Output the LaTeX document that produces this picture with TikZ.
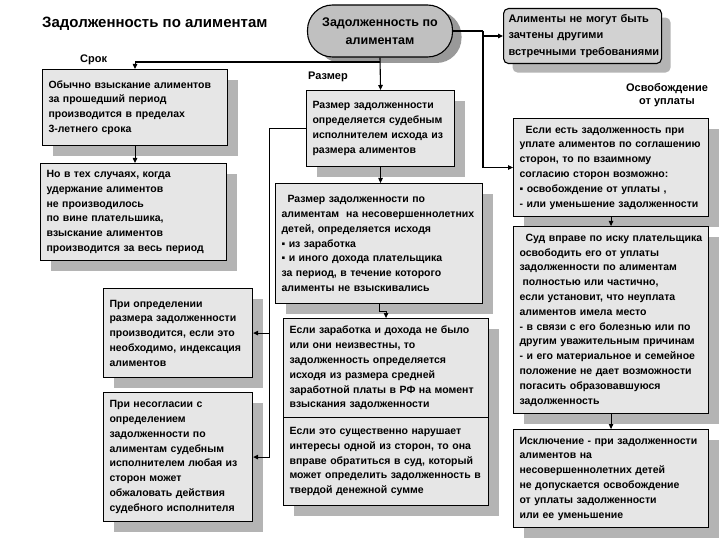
\documentclass[tikz,border=0pt]{standalone}
\usepackage{fontspec}
\setmainfont{Liberation Sans}
\usetikzlibrary{shadows,arrows.meta,calc}
\definecolor{boxfill}{HTML}{E6E6E6}
\definecolor{shade}{HTML}{B4B4B4}
\definecolor{ovalfill}{HTML}{C0C0C0}
\definecolor{alimfill}{HTML}{D2D2D2}
\tikzset{
  box/.style={draw=black, line width=1.1pt, fill=boxfill, anchor=north west, align=left,
    inner xsep=6pt, inner ysep=2pt, font=\bfseries\fontsize{10.5}{14.8}\selectfont,
    general shadow={fill=shade, shadow xshift=10pt, shadow yshift=-10pt}},
  sz/.style 2 args={minimum width=#1pt, minimum height=#2pt, text width=#1pt-12pt},
  ovalbox/.style={draw=black, line width=1.1pt, fill=ovalfill, rounded corners=25pt,
    minimum width=145pt, minimum height=52pt, align=center, inner sep=2pt,
    font=\bfseries\fontsize{12.5}{18}\selectfont,
    general shadow={fill=shade!85!black, shadow xshift=9pt, shadow yshift=-6pt}},
  alimbox/.style={draw=black, line width=1.1pt, fill=alimfill, rounded corners=5pt, anchor=north west,
    align=left, inner xsep=5pt, minimum width=158pt, minimum height=55pt, text width=148pt,
    font=\bfseries\fontsize{11}{16.5}\selectfont,
    general shadow={fill=shade, shadow xshift=9pt, shadow yshift=-9pt}},
  conn/.style={line width=1.1pt},
  arr/.style={conn, -{Triangle[length=5pt,width=4.5pt]}},
  lbl/.style={font=\bfseries\fontsize{11}{13.5}\selectfont, align=center, inner sep=1pt},
}
\begin{document}
\begin{tikzpicture}[x=1pt,y=-1pt]
\useasboundingbox (0,0) rectangle (720,540);
\node[anchor=west, inner sep=0pt, font=\bfseries\fontsize{15}{17}\selectfont] (title) at (42,24) {Задолженность по алиментам};

\node[ovalbox] (oval) at (380,31) {Задолженность по\\алиментам};
\node[alimbox] (alim) at (503,8) {\mbox{Алименты не могут быть}\\\mbox{зачтены другими}\\\mbox{встречными требованиями}};

\node[lbl, anchor=west] (srok) at (79,60) {Срок};
\node[lbl, anchor=west] (razmer) at (307,77) {Размер};
\node[lbl] (osv) at (667,95) {Освобождение\\от уплаты};

% left column
\node[box, sz={185}{76}] (l1) at (42,69) {Обычно взыскание алиментов\\за прошедший период\\производится в пределах\\3-летнего срока};
\node[box, sz={186}{97}] (l2) at (40,163) {Но в тех случаях, когда\\удержание алиментов\\не производилось\\по вине плательшика,\\взыскание алиментов\\производится за весь период};
\node[box, sz={149}{89}] (l3) at (103,288) {При определении\\размера задолженности\\производится, если это\\необходимо, индексация\\алиментов};
\node[box, sz={149}{129}] (l4) at (103,392) {При несогласии с\\определением\\задолженности по\\алиментам судебным\\исполнителем любая из\\сторон может\\обжаловать действия\\судебного исполнителя};

% middle column
\node[box, sz={148}{76}] (m1) at (306,90) {Размер задолженности\\определяется судебным\\исполнителем исхода из\\размера алиментов};
\node[box, sz={207}{120}, inner xsep=5pt] (m2) at (275,183) {\hspace{6pt}Размер задолженности по\\алиментам\ \ на несовершеннолетних\\детей, определяется исходя\\▪ из заработка\\▪ и иного дохода плательщика\\за период, в течение которого\\алименты не взыскивались};
\node[box, sz={205}{99}] (m3) at (283,318) {Если заработка и дохода не было\\или они неизвестны, то\\задолженность определяется\\исходя из размера средней\\заработной платы в РФ на момент\\взыскания задолженности};
\node[box, sz={205}{88}] (m4) at (283,417) {Если это существенно нарушает\\интересы одной из сторон, то она\\вправе обратиться в суд, который\\может определить задолженность в\\твердой денежной сумме};

% right column
\node[box, sz={195}{98}, inner xsep=4pt] (r1) at (513,118) {\hspace{6pt}Если есть задолженность при\\уплате алиментов по соглашению\\сторон, то по взаимному\\согласию сторон возможно:\\▪ освобождение от уплаты ,\\- или уменьшение задолженности};
\node[box, sz={195}{187}, inner xsep=4pt] (r2) at (513,226) {\hspace{6pt}Суд вправе по иску плательщика\\освободить его от уплаты\\задолженности по алиментам\\\hspace{3pt}полностью или частично,\\если установит, что неуплата\\алиментов имела место\\- в связи с его болезнью или по\\другим уважительным причинам\\- и его материальное и семейное\\положение не дает возможности\\погасить образовавшуюся\\задолженность};
\node[box, sz={195}{98}, inner xsep=4pt] (r3) at (513,429) {Исключение - при задолженности\\алиментов на\\несовершеннолетних детей\\не допускается освобождение\\от уплаты задолженности\\или ее уменьшение};

% connectors
\coordinate (j1) at (380,62);
\draw[arr] (oval.south) -- (m1.north);
\draw[arr] (j1) -| (l1.north);
\coordinate (j2) at (483,31);
\draw[conn] (oval.east) -- (j2);
\draw[arr] (j2) |- (r1.west);
\coordinate (j3) at (j2 |- alim.west);
\draw[arr] (j3) -- (alim.west);
\path (l4.east) ++(16,0) coordinate (j4);
\path (l3.east) ++(16,0) coordinate (j5);
\draw[arr] (m1.west) -| (j4) -- (l4.east);
\draw[arr] (j5) -- (l3.east);
\draw[arr] (l1.south) -- (l1.south |- l2.north);
\draw[arr] (m1.south) -- (m1.south |- m2.north);
\draw[arr] (m2.south) -- ++(0,7) -| (m3.north);
\draw[arr] (r1.south) -- (r2.north);
\draw[arr] (r2.south) -- (r3.north);
\end{tikzpicture}
\end{document}
